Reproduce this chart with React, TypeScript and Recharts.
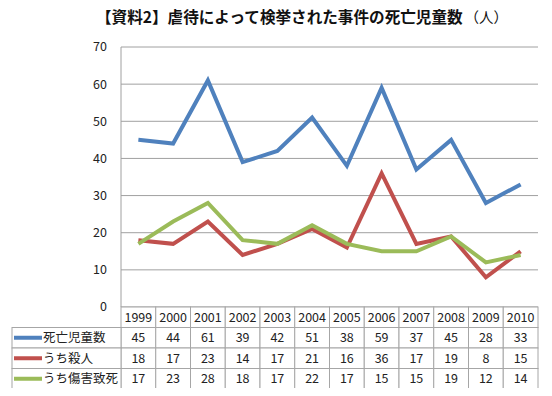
import { LineChart, Line, XAxis, YAxis, CartesianGrid } from 'recharts';

const years = ['1999', '2000', '2001', '2002', '2003', '2004', '2005', '2006', '2007', '2008', '2009', '2010'];
const deaths = [45, 44, 61, 39, 42, 51, 38, 59, 37, 45, 28, 33];
const murders = [18, 17, 23, 14, 17, 21, 16, 36, 17, 19, 8, 15];
const assaultDeaths = [17, 23, 28, 18, 17, 22, 17, 15, 15, 19, 12, 14];
const yTicks = [0, 10, 20, 30, 40, 50, 60, 70];

const series = [
  { key: 'deaths', name: '死亡児童数', values: deaths, color: '#4F81BD' },
  { key: 'murders', name: 'うち殺人', values: murders, color: '#C0504D' },
  { key: 'assault', name: 'うち傷害致死', values: assaultDeaths, color: '#9BBB59' },
];

const chartData = years.map((year, i) => ({
  year,
  deaths: deaths[i],
  murders: murders[i],
  assault: assaultDeaths[i],
}));

const FONT = '"Noto Sans CJK JP", "Noto Sans", sans-serif';
const PLOT_LEFT = 121;
const PLOT_RIGHT = 538;
const COL_W = (PLOT_RIGHT - PLOT_LEFT) / years.length;
const ROW_H = 20.5;
const TABLE_LEFT = 12;
const BORDER = '#a6a6a6';

// x-axis tick draws the year cell plus the data table column below it
function TableTick(props: any) {
  const { x, y, payload, index } = props;
  const left = x - COL_W / 2;
  const cells = [payload.value, ...series.map((s) => String(s.values[index]))];
  return (
    <g>
      {cells.map((txt, r) => (
        <g key={r}>
          <rect x={left} y={y + r * ROW_H} width={COL_W} height={ROW_H} fill="#fff" stroke={BORDER} strokeWidth={1} />
          <text x={x} y={y + r * ROW_H + ROW_H / 2 + 4.5} textAnchor="middle" fontSize={12.5} fill="#222" fontFamily={FONT}>
            {txt}
          </text>
        </g>
      ))}
      {index === 0 &&
        series.map((s, r) => {
          const ry = y + (r + 1) * ROW_H;
          return (
            <g key={s.key}>
              <rect x={TABLE_LEFT} y={ry} width={left - TABLE_LEFT} height={ROW_H} fill="#fff" stroke={BORDER} strokeWidth={1} />
              <line x1={TABLE_LEFT + 2} x2={TABLE_LEFT + 30} y1={ry + ROW_H / 2} y2={ry + ROW_H / 2} stroke={s.color} strokeWidth={4} />
              <text x={TABLE_LEFT + 31} y={ry + ROW_H / 2 + 4.5} fontSize={12.5} fill="#222" fontFamily={FONT}>
                {s.name}
              </text>
            </g>
          );
        })}
    </g>
  );
}

export default function App() {
  return (
    <div style={{ position: 'relative', width: 552, height: 396, margin: -8, background: '#fff' }}>
      <div
        style={{
          position: 'absolute',
          top: 5,
          left: 96,
          fontFamily: FONT,
          fontSize: 15.6,
          color: '#111',
          whiteSpace: 'nowrap',
          lineHeight: '22px',
        }}
      >
        <span style={{ fontWeight: 'bold' }}>【資料2】虐待によって検挙された事件の死亡児童数</span>
        <span style={{ marginLeft: 2, fontSize: 14.5 }}>（人）</span>
      </div>
      <LineChart
        width={552}
        height={396}
        data={chartData}
        margin={{ top: 47, right: 552 - PLOT_RIGHT, bottom: 10, left: PLOT_LEFT - 50 }}
      >
        <CartesianGrid vertical={false} stroke="#a0a0a0" strokeWidth={1} />
        <XAxis
          dataKey="year"
          height={79}
          tickSize={0}
          tickMargin={0}
          axisLine={false}
          tickLine={false}
          interval={0}
          padding={{ left: COL_W / 2, right: COL_W / 2 }}
          tick={<TableTick />}
        />
        <YAxis
          width={50}
          domain={[0, 70]}
          ticks={yTicks}
          tickLine={false}
          axisLine={{ stroke: '#a0a0a0' }}
          tickSize={6}
          tickMargin={8}
          tick={{ fontSize: 12.5, fill: '#222', fontFamily: FONT }}
        />
        {series.map((s) => (
          <Line
            key={s.key}
            type="linear"
            dataKey={s.key}
            name={s.name}
            stroke={s.color}
            strokeWidth={4}
            dot={false}
            isAnimationActive={false}
          />
        ))}
      </LineChart>
    </div>
  );
}
